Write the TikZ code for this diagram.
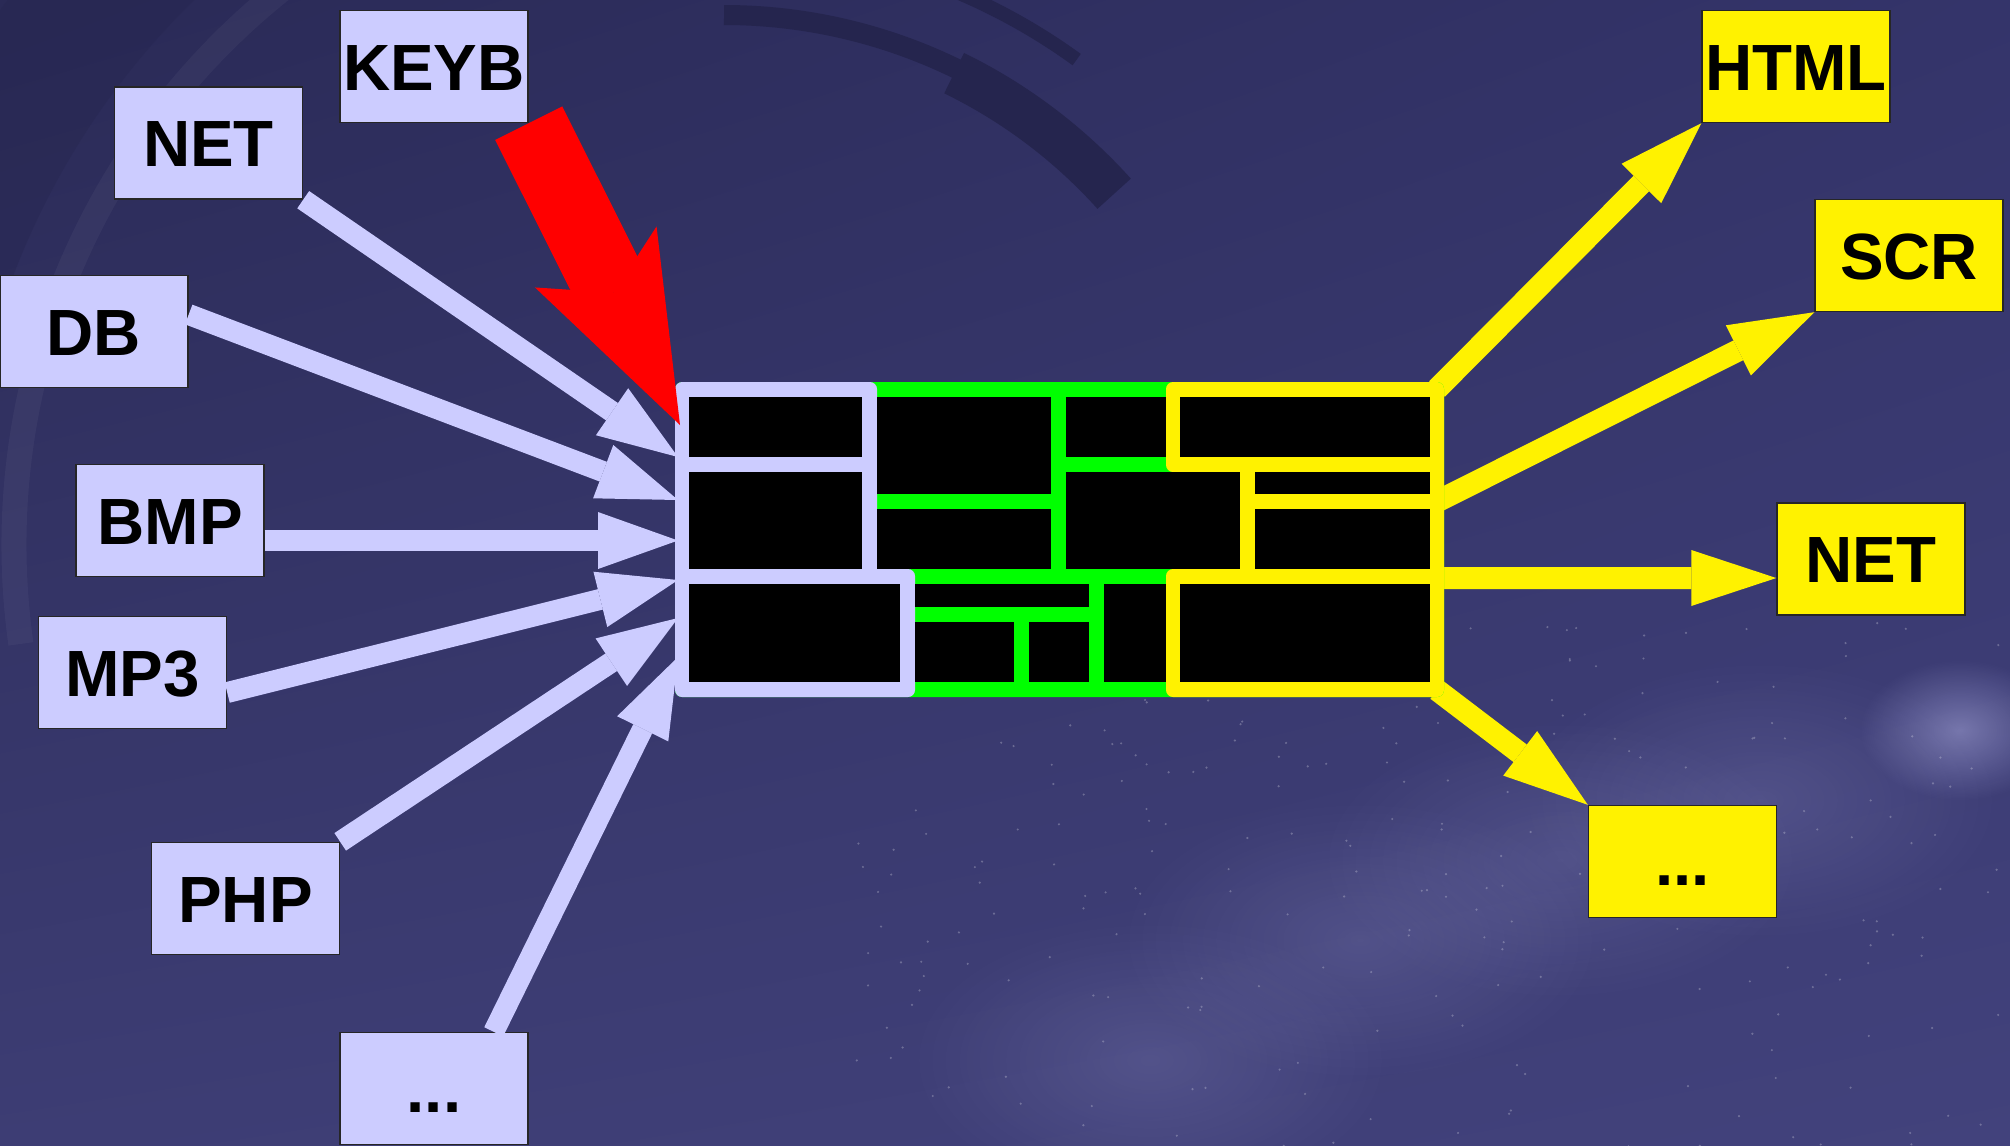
\documentclass[tikz,border=0pt]{standalone}
\usepackage{fontspec}
\setmainfont{Liberation Sans}
\usepackage{tikz}
\usetikzlibrary{arrows.meta, shadings, fadings}

\definecolor{lav}{HTML}{CCCCFF}
\definecolor{skytop}{HTML}{2A2A56}
\definecolor{skymid}{HTML}{34346A}
\definecolor{skylow}{HTML}{3D3D74}
\definecolor{skyend}{HTML}{42427C}
\definecolor{skyarc}{HTML}{25254E}

\tikzfading[name=glow, inner color=transparent!0, outer color=transparent!100]

\tikzset{
  inbox/.style={draw=black!85, line width=0.4pt, fill=lav, minimum width=1.88cm, minimum height=1.12cm,
    inner sep=0pt, text height=0.47cm, text depth=0pt, font=\fontsize{18.6}{22}\selectfont\bfseries},
  outbox/.style={inbox, fill=yellow},
  inarrow/.style={draw=lav, line width=0.21cm, -{Triangle[length=0.8cm, width=0.57cm, line width=0pt]}},
  outarrow/.style={draw=yellow, line width=0.22cm, -{Triangle[length=0.85cm, width=0.56cm, line width=0pt]}},
  keyarrow/.style={draw=red, line width=0.75cm, -{Stealth[length=1.88cm, width=1.36cm, inset=0.4cm, line width=0pt]}}
}

\begin{document}
\begin{tikzpicture}[x=1cm, y=-1cm]
  \useasboundingbox (0,0) rectangle (20.1,11.45);
  % sky
  \begin{scope}
    \clip (0,0) rectangle (20.1,11.45);
    \shade[upper left=skytop, upper right=skymid, lower left=skylow, lower right=skyend] (0,0) rectangle (20.1,11.45);
    \draw[skyarc, opacity=0.35, line width=1.4cm] (7.24,5.45) ++(-95:8.3) arc[start angle=-95, end angle=-190, radius=8.3];
    \draw[white, opacity=0.04, line width=0.25cm] (7.24,5.45) ++(-112:7.1) arc[start angle=-112, end angle=-188, radius=7.1];
    \draw[skyarc, line width=0.2cm] (7.24,5.45) ++(-90:5.3) arc[start angle=-90, end angle=-62, radius=5.3];
    \draw[skyarc, line width=0.45cm] (7.24,5.45) ++(-64:5.25) arc[start angle=-64, end angle=-42, radius=5.25];
    \draw[skyarc, line width=0.14cm] (7.24,5.45) ++(-70:6.0) arc[start angle=-70, end angle=-54, radius=6.0];
    \foreach \cx/\cy in {11.5/10.6, 13.6/9.4, 15.6/8.6, 17.6/8.0}
      \fill[lav, opacity=0.14, path fading=glow] (\cx,\cy) ellipse (2.4 and 1.4);
    \fill[lav, opacity=0.4, path fading=glow] (19.6,7.3) ellipse (1.0 and 0.7);
    \pgfmathsetseed{11}
    \foreach \i in {1,...,260}
      \fill[white, opacity=0.25] ({8.5+11.6*rnd},{6.2+5.3*rnd}) circle (0.012);
  \end{scope}

  % sources
  \node[inbox] (keyb) at (4.34,0.665) {KEYB};
  \node[inbox] (netin) at (2.085,1.43) {NET};
  \node[inbox] (db) at (0.94,3.315) {DB};
  \node[inbox] (bmp) at (1.70,5.205) {BMP};
  \node[inbox] (mp3) at (1.325,6.725) {MP3};
  \node[inbox] (php) at (2.455,8.985) {PHP};
  \node[inbox] (moreIn) at (4.34,10.885) {...};
  % targets
  \node[outbox] (html) at (17.96,0.665) {HTML};
  \node[outbox] (scr) at (19.09,2.555) {SCR};
  \node[outbox] (netout) at (18.71,5.59) {NET};
  \node[outbox] (moreOut) at (16.825,8.615) {...};

  \coordinate (out1) at (14.37,3.89);
  \coordinate (out2) at (14.37,5.015);
  \coordinate (out3) at (14.37,5.78);
  \coordinate (out4) at (14.37,6.90);
  \draw[outarrow] (out1) -- (html.south west);
  \draw[outarrow] (out2) -- (scr.south west);
  \draw[outarrow] (out3) -- ([yshift=-0.19cm]netout.west);
  \draw[outarrow] (out4) -- (moreOut.north west);

  % core
  \fill[green, rounded corners=2pt] (6.75,3.82) rectangle (14.44,6.97);
  \fill[lav, rounded corners=2pt] (6.75,3.82) -- (8.77,3.82) -- (8.77,5.69) -- (9.15,5.69) -- (9.15,6.97) -- (6.75,6.97) -- cycle;
  \fill[yellow, rounded corners=2pt] (11.66,3.82) -- (14.44,3.82) -- (14.44,6.97) -- (11.66,6.97) -- (11.66,5.69)
    -- (12.40,5.69) -- (12.40,4.72) -- (11.66,4.72) -- cycle;
  \foreach \xa/\ya/\xb/\yb in {6.89/3.97/8.62/4.57, 6.89/4.72/8.62/5.69, 6.89/5.84/9.00/6.82,
      8.77/3.97/10.51/4.94, 8.77/5.09/10.51/5.69, 10.66/3.97/11.66/4.57, 10.66/4.72/12.40/5.69,
      9.15/5.84/10.89/6.07, 9.15/6.22/10.14/6.82, 10.29/6.22/10.89/6.82, 11.04/5.84/11.66/6.82,
      11.80/3.97/14.30/4.57, 12.55/4.72/14.30/4.94, 12.55/5.09/14.30/5.69, 11.80/5.84/14.30/6.82}
    \fill[black] (\xa,\ya) rectangle (\xb,\yb);

  \coordinate (in1) at (6.78,4.57);
  \coordinate (in2) at (6.78,5.00);
  \coordinate (in3) at (6.78,5.405);
  \coordinate (in4) at (6.78,5.80);
  \coordinate (in5) at (6.78,6.18);
  \coordinate (in6) at (6.78,6.57);
  \coordinate (keytip) at (6.80,4.25);
  \draw[inarrow] (netin.south east) -- (in1);
  \draw[inarrow] ([yshift=0.17cm]db.east) -- (in2);
  \draw[inarrow] ([yshift=-0.2cm]bmp.east) -- (in3);
  \draw[inarrow] ([yshift=-0.2cm]mp3.east) -- (in4);
  \draw[inarrow] (php.north east) -- (in5);
  \draw[inarrow] ([xshift=-0.35cm]moreIn.north east) -- (in6);
  \draw[keyarrow] (keyb.south east) -- (keytip);
\end{tikzpicture}
\end{document}
